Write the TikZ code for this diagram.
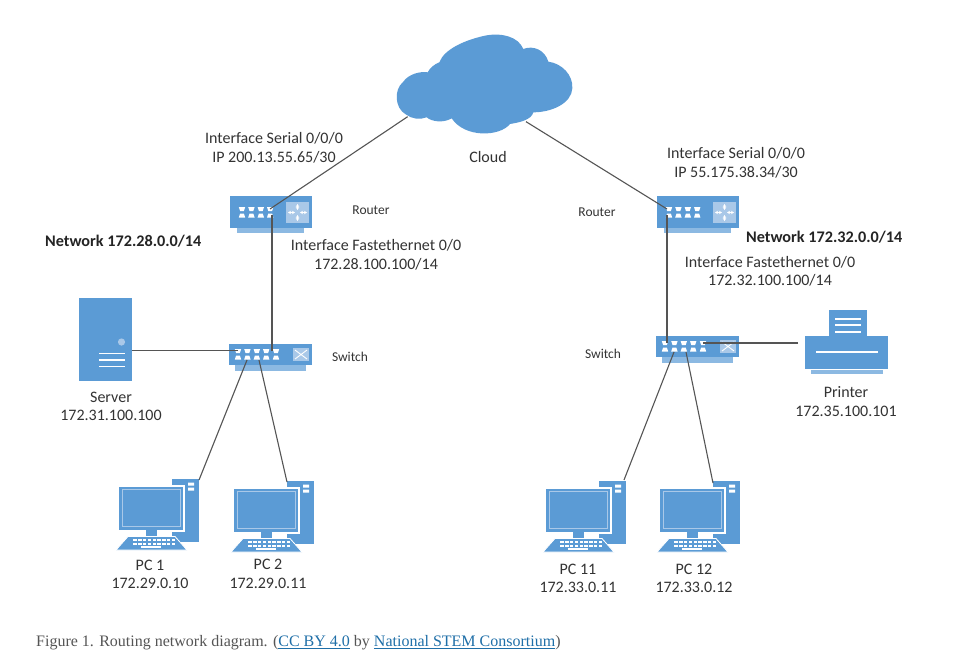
\documentclass[tikz,border=0pt]{standalone}
\usepackage{fontspec}
\usetikzlibrary{arrows.meta}
\setmainfont{Carlito}
\newfontfamily\capfont{Liberation Serif}
\definecolor{netblue}{HTML}{5B9BD5}
\definecolor{wirec}{HTML}{555555}
\definecolor{lab}{HTML}{333333}
\definecolor{panelc}{HTML}{A9C8E8}
\definecolor{linkc}{HTML}{1F6FA8}
\tikzset{
  x=1pt,y=-1pt,
  wire/.style={draw=wirec,line width=1.1pt},
  lbl/.style={font=\fontsize{16}{18.5}\selectfont,text=lab,inner sep=0pt,align=center},
  small/.style={font=\fontsize{13.5}{15}\selectfont,text=lab,inner sep=0pt},
  blbl/.style={font=\fontsize{16.2}{18}\selectfont\bfseries,text=lab!70!black,inner sep=0pt},
  portgrid/.pic={
    \foreach \px in {0,1,2,3}{
      \foreach \py/\sh in {0/1,1/-1}{
        \fill[white] (\px*9.4-3.2,\py*6.5-2*\sh) -- ++(6.4,0) -- ++(-1.3,4*\sh) -- ++(-3.8,0) -- cycle;
      }
    }
  },
  routericon/.pic={
    \fill[netblue!70!white] (7,31) rectangle (74,37);
    \fill[netblue] (0,0) rectangle (82,32);
    \pic at (12,13) {portgrid};
    \fill[panelc] (56,6) rectangle (79,27);
    \draw[white,line width=0.9pt,{Stealth[length=3pt,width=3.5pt]}-{Stealth[length=3pt,width=3.5pt]}] (67.5,8) -- (67.5,14);
    \draw[white,line width=0.9pt,{Stealth[length=3pt,width=3.5pt]}-{Stealth[length=3pt,width=3.5pt]}] (67.5,19) -- (67.5,25);
    \draw[white,line width=0.9pt,{Stealth[length=3pt,width=3.5pt]}-{Stealth[length=3pt,width=3.5pt]}] (58,16.5) -- (65,16.5);
    \draw[white,line width=0.9pt,{Stealth[length=3pt,width=3.5pt]}-{Stealth[length=3pt,width=3.5pt]}] (70,16.5) -- (77,16.5);
    \coordinate (-in) at (40,13);
    \coordinate (-dn) at (42,19);
    \coordinate (-ina) at (10,13);
    \coordinate (-dna) at (10,19);
  },
  switchicon/.pic={
    \fill[netblue!70!white] (6,21) rectangle (77,27);
    \fill[netblue] (0,0) rectangle (83,21);
    \pic at (9,7) {portgrid};
    \foreach \py/\sh in {0/1,1/-1}{
      \fill[white] (47-3.2,7+\py*6.5-2*\sh) -- ++(6.4,0) -- ++(-1.3,4*\sh) -- ++(-3.8,0) -- cycle;
    }
    \fill[panelc] (64,4) rectangle (80,17);
    \draw[white,line width=0.9pt] (66,6) -- (78,15) (66,15) -- (78,6);
    \coordinate (-a) at (9,6.5);
    \coordinate (-b) at (43,6.5);
    \coordinate (-c) at (47,7);
    \coordinate (-d) at (18,16);
    \coordinate (-e) at (30,16);
    \coordinate (-f) at (11,7);
  },
  pcicon/.pic={
    \fill[netblue] (53,1) rectangle (80,64);
    \fill[white] (69,5) rectangle (75,8) (69,10) rectangle (75,13);
    \fill[white] (51,7.5) rectangle (66,54);
    \fill[netblue] (0,9) rectangle (64,52);
    \draw[panelc,line width=0.8pt] (3,12) rectangle (61,49);
    \fill[white] (25,52) rectangle (53,59);
    \fill[netblue] (27,52) rectangle (38,59);
    \fill[netblue,draw=white,line width=0.8pt] (9,59) -- (56,59) -- (68,72.5) -- (-3,72.5) -- cycle;
    \foreach \r in {61.5,65}{
      \foreach \k in {1,...,9}{
        \fill[white] (9.5+\k*4.8,\r) rectangle ++(3.4,2.4);
      }
    }
    \fill[white] (22,68.5) rectangle (42,70.5);
  }
}
\begin{document}
\begin{tikzpicture}
\useasboundingbox (0,0) rectangle (957,667);
\fill[white] (0,0) rectangle (957,667);
% cloud
\begin{scope}[shift={(385,25)},x=0.3333pt,y=-0.3333pt]
\fill[netblue] (62,268) .. controls (30,250) and (25,195) .. (55,170)
 .. controls (70,148) and (105,138) .. (128,142)
 .. controls (135,128) and (148,118) .. (163,112)
 .. controls (178,72) and (240,45) .. (300,32)
 .. controls (350,22) and (400,35) .. (415,72)
 .. controls (445,60) and (480,75) .. (490,110)
 .. controls (530,115) and (565,150) .. (562,190)
 .. controls (560,235) and (500,262) .. (445,262)
 .. controls (440,285) and (400,293) .. (375,297)
 .. controls (345,335) and (240,340) .. (200,280)
 .. controls (175,295) and (140,290) .. (125,277)
 .. controls (105,285) and (80,282) .. (62,268) -- cycle;
\coordinate (cloudL) at (68,275);
\coordinate (cloudR) at (423,290);
\end{scope}
% routers, switches
\pic (r1) at (230,196) {routericon};
\pic (r2) at (657,196) {routericon};
\pic (s1) at (229,344) {switchicon};
\pic (s2) at (656,336) {switchicon};
% server
\fill[netblue] (79,298) rectangle (132,381);
\fill[panelc] (121.5,342) circle (3.6);
\draw[white,line width=1.3pt] (99,353.5) -- (125,353.5) (99,360) -- (125,360) (99,366.5) -- (125,366.5);
\coordinate (srvE) at (132,350.5);
% printer
\fill[netblue] (829,310) rectangle (867,340);
\draw[white,line width=1.3pt] (835,319) -- (861,319) (835,325) -- (861,325) (835,332) -- (861,332);
\fill[netblue] (805,336) rectangle (888,369);
\draw[white,line width=1.1pt] (816,352) -- (878,352);
\fill[netblue!70!white] (811,370) rectangle (883,374);
\coordinate (prnW) at (798,343);
% PCs
\pic at (119,477.5) {pcicon};
\pic at (234,479.5) {pcicon};
\pic at (546,479.5) {pcicon};
\pic at (660,479.5) {pcicon};
% connectors
\coordinate (p1t) at (199,480);
\coordinate (p2t) at (287,482);
\coordinate (p11t) at (624,480);
\coordinate (p12t) at (713,483);
\draw[wire] (cloudL) -- (r1-in);
\draw[wire] (cloudR) -- (r2-ina);
\draw[wire] (s1-b |- r1-dn) -- (s1-b);
\draw[wire] (r2-dna) -- (r2-dna |- s2-f);
\draw[wire] (srvE) -- (s1-a);
\draw[wire] (prnW) -- (s2-c);
\draw[wire] (s1-d) -- (p1t);
\draw[wire] (s1-e) -- (p2t);
\draw[wire] (s2-d) -- (p11t);
\draw[wire] (s2-e) -- (p12t);
% labels
\node[lbl] (t1) at (274,148) {Interface Serial 0/0/0\\IP 200.13.55.65/30};
\node[lbl] (t2) at (488,157) {Cloud};
\node[small] (t3) at (371,210) {Router};
\node[blbl,anchor=west] (t4) at (45,241) {Network 172.28.0.0/14};
\node[lbl] (t5) at (376,255) {Interface Fastethernet 0/0\\172.28.100.100/14};
\node[lbl] (t6) at (111,406.5) {Server\\172.31.100.100};
\node[small] (t7) at (350,357) {Switch};
\node[lbl] (t8) at (150,574.5) {PC 1\\172.29.0.10};
\node[lbl] (t9) at (268,574) {PC 2\\172.29.0.11};
\node[lbl] (t10) at (736,163) {Interface Serial 0/0/0\\IP 55.175.38.34/30};
\node[small] (t11) at (597,212) {Router};
\node[blbl,anchor=west] (t12) at (746,237) {Network 172.32.0.0/14};
\node[lbl] (t13) at (770,271.5) {Interface Fastethernet 0/0\\172.32.100.100/14};
\node[small] (t14) at (603,354) {Switch};
\node[lbl] (t15) at (846,401.5) {Printer\\172.35.100.101};
\node[lbl] (t16) at (578,578.5) {PC 11\\172.33.0.11};
\node[lbl] (t17) at (694,578.5) {PC 12\\172.33.0.12};
\node[anchor=west,inner sep=0pt,font=\capfont\fontsize{16}{18}\selectfont,text=wirec] (cap) at (36,643)
 {Figure 1. Routing network diagram. ({\color{linkc}\underline{CC BY 4.0}} by {\color{linkc}\underline{National STEM Consortium}})};
\end{tikzpicture}
\end{document}
